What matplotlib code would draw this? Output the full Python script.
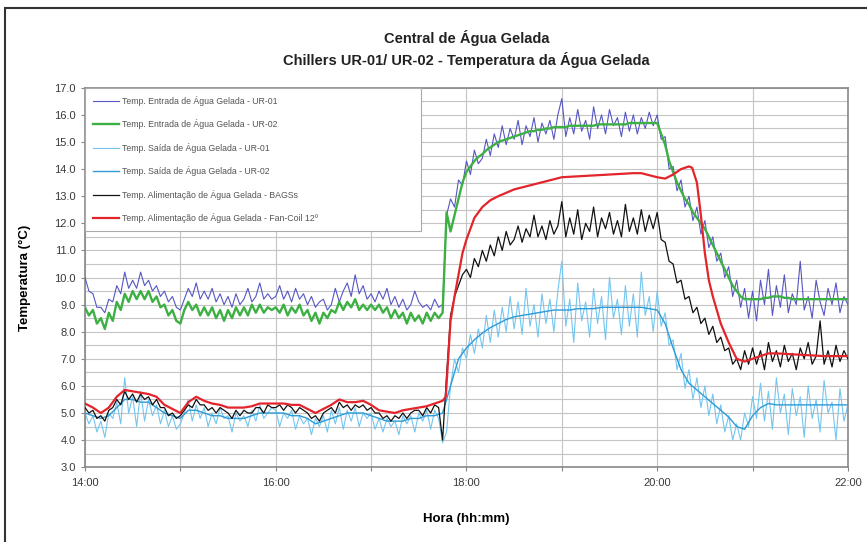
import numpy as np
import matplotlib.pyplot as plt
from matplotlib.patches import Rectangle

plt.rcParams['font.family'] = ['Liberation Sans', 'DejaVu Sans']

# time axis: 2.5 min steps from 14:00 to 22:00 (hours)
t_fine = 14 + np.arange(193) * 2.5 / 60
t_5min = 14 + np.arange(97) * 5 / 60

# Temp. Entrada de Agua Gelada - UR-01 (2.5 min)
entrada_ur01 = [
    10.0, 9.5, 9.4, 8.9, 8.9, 8.7, 9.2, 9.1, 9.7, 9.4, 10.2, 9.6, 9.9, 9.6, 10.2, 9.7, 9.9, 9.5, 9.7, 9.3, 9.5, 9.1, 9.3, 8.9,
    8.8, 9.2, 9.6, 9.3, 9.8, 9.2, 9.5, 9.2, 9.6, 9.1, 9.4, 9.0, 9.3, 8.9, 9.4, 9.0, 9.2, 9.6, 9.1, 9.3, 9.8, 9.2, 9.4, 9.2,
    9.3, 9.7, 9.2, 9.5, 9.1, 9.6, 9.2, 9.4, 9.0, 9.3, 8.9, 9.1, 9.2, 8.8, 9.0, 9.6, 9.1, 9.5, 9.8, 9.3, 10.1, 9.4, 9.7, 9.2,
    9.4, 9.1, 9.5, 9.2, 9.6, 9.0, 9.3, 8.9, 9.2, 8.8, 9.0, 9.5, 9.1, 8.9, 9.0, 8.8, 9.2, 8.9, 9.0, 12.3, 12.9, 12.6, 13.6, 13.4,
    14.3, 13.8, 14.7, 14.2, 14.4, 15.1, 14.5, 15.3, 14.8, 15.6, 14.9, 15.5, 15.1, 15.8, 14.9, 15.6, 15.2, 15.9, 15.0, 15.7, 15.3, 15.8, 15.1, 16.0,
    16.6, 15.2, 15.9, 15.3, 16.2, 15.4, 15.8, 15.1, 16.3, 15.5, 16.0, 15.3, 16.2, 15.6, 15.9, 15.2, 16.1, 15.4, 16.0, 15.3, 15.9, 15.5, 16.1, 15.6,
    16.0, 15.1, 15.2, 14.0, 14.1, 13.2, 13.6, 12.6, 13.0, 12.1, 12.6, 11.6, 12.1, 11.1, 11.5, 10.6, 10.9, 10.0, 10.4, 9.3, 9.9, 8.9, 9.6, 8.5,
    9.5, 8.4, 9.9, 9.0, 10.3, 8.6, 9.7, 8.9, 10.1, 8.7, 9.4, 9.0, 10.6, 8.8, 9.3, 8.5, 9.9, 9.1, 8.6, 9.6, 9.0, 9.8, 8.7, 9.3,
    9.0]

# Temp. Entrada de Agua Gelada - UR-02 (2.5 min)
entrada_ur02 = [
    8.9, 8.6, 8.8, 8.3, 8.5, 8.1, 8.7, 8.4, 9.1, 8.8, 9.4, 9.1, 9.5, 9.2, 9.5, 9.2, 9.5, 9.1, 9.3, 8.9, 9.0, 8.6, 8.8, 8.4,
    8.3, 8.8, 9.1, 8.8, 9.0, 8.6, 8.9, 8.6, 8.9, 8.5, 8.8, 8.4, 8.8, 8.5, 8.9, 8.6, 8.9, 8.6, 9.0, 8.7, 9.0, 8.7, 8.9, 8.8,
    8.9, 8.7, 9.0, 8.6, 8.9, 8.7, 9.0, 8.6, 8.8, 8.4, 8.7, 8.3, 8.7, 8.5, 8.8, 8.7, 9.1, 8.8, 9.1, 8.9, 9.2, 8.8, 9.0, 8.8,
    9.0, 8.8, 9.0, 8.7, 8.9, 8.5, 8.8, 8.5, 8.7, 8.3, 8.7, 8.4, 8.6, 8.3, 8.7, 8.4, 8.7, 8.5, 8.7, 12.4, 11.7, 12.3, 12.9, 13.5,
    13.9, 14.1, 14.3, 14.45, 14.55, 14.7, 14.8, 14.9, 15.0, 15.05, 15.1, 15.15, 15.2, 15.25, 15.3, 15.35, 15.4, 15.4, 15.45, 15.45, 15.5, 15.5, 15.55, 15.55,
    15.55, 15.55, 15.6, 15.6, 15.6, 15.6, 15.6, 15.6, 15.6, 15.65, 15.65, 15.65, 15.65, 15.65, 15.65, 15.65, 15.65, 15.7, 15.7, 15.7, 15.7, 15.7, 15.7, 15.7,
    15.7, 15.3, 14.9, 14.3, 13.9, 13.5, 13.2, 12.9, 12.7, 12.4, 12.2, 12.0, 11.8, 11.5, 11.2, 10.9, 10.6, 10.3, 10.0, 9.7, 9.5, 9.3, 9.2, 9.2,
    9.2, 9.2, 9.2, 9.25, 9.25, 9.3, 9.3, 9.3, 9.25, 9.25, 9.2, 9.2, 9.2, 9.2, 9.2, 9.2, 9.2, 9.2, 9.2, 9.2, 9.2, 9.2, 9.2, 9.2,
    9.2]

# Temp. Saida de Agua Gelada - UR-01 (2.5 min)
saida_ur01 = [
    5.0, 4.6, 4.9, 4.3, 4.7, 4.1, 5.0, 4.8, 5.4, 4.6, 6.3, 5.0, 5.6, 4.5, 5.8, 4.7, 5.5, 4.9, 5.3, 4.6, 5.1, 4.5, 4.9, 4.4,
    4.6, 5.0, 5.5, 4.7, 5.3, 4.8, 5.2, 4.5, 5.0, 4.6, 5.2, 4.8, 4.9, 4.3, 5.0, 4.7, 4.9, 4.5, 5.1, 4.7, 5.3, 4.8, 5.0, 5.2,
    5.1, 4.5, 5.0, 4.8, 5.1, 4.4, 4.9, 4.6, 4.8, 4.2, 4.8, 4.5, 4.9, 4.3, 5.1, 4.6, 5.2, 4.4, 5.1, 4.7, 5.2, 4.5, 5.0, 4.8,
    5.0, 4.4, 4.8, 4.3, 4.8, 4.5, 4.7, 4.2, 4.9, 4.6, 4.9, 4.3, 5.0, 4.7, 5.1, 4.4, 5.1, 4.8, 3.9, 4.3, 6.0, 7.0, 6.5, 7.4,
    7.0, 7.9, 7.2, 8.1, 7.4, 8.6, 7.6, 8.8, 7.8, 8.9, 8.0, 9.3, 8.1, 9.1, 7.9, 9.6, 8.2, 9.0, 7.8, 9.4, 8.3, 9.2, 8.0, 9.5,
    10.6, 8.2, 9.2, 7.6, 9.8, 8.4, 9.1, 7.8, 9.6, 8.3, 9.3, 7.7, 10.0, 8.5, 9.2, 7.9, 9.7, 8.2, 9.4, 7.8, 10.2, 8.6, 9.3, 8.0,
    9.5, 8.2, 8.7, 7.5, 7.7, 6.6, 7.2, 5.9, 6.6, 5.5, 6.3, 5.2, 6.0, 4.9, 5.7, 4.6, 5.3, 4.3, 4.9, 4.0, 4.6, 4.0, 5.0, 4.5,
    5.6, 4.8, 6.1, 4.7, 5.8, 4.4, 6.3, 5.0, 5.7, 4.2, 5.9, 4.9, 5.6, 4.1, 6.0, 4.8, 5.5, 4.3, 6.2, 5.0, 5.4, 4.0, 5.9, 4.7,
    5.3]

# Temp. Saida de Agua Gelada - UR-02 (5 min)
saida_ur02 = [
    5.0, 4.9, 4.8, 4.9, 5.2, 5.5, 5.5, 5.4, 5.4, 5.2, 5.0, 4.9,
    4.8, 5.1, 5.1, 5.0, 4.9, 4.9, 4.8, 4.8, 4.8, 4.9, 5.0, 5.0,
    5.0, 5.0, 4.9, 4.9, 4.8, 4.6, 4.7, 4.8, 4.9, 5.0, 5.0, 5.0,
    4.9, 4.8, 4.7, 4.7, 4.7, 4.8, 4.8, 4.9, 4.9, 5.0, 6.0, 7.0,
    7.4, 7.7, 7.95, 8.15, 8.3, 8.45, 8.55, 8.6, 8.65, 8.7, 8.75, 8.8,
    8.8, 8.8, 8.85, 8.85, 8.85, 8.9, 8.9, 8.9, 8.9, 8.9, 8.9, 8.85,
    8.8, 8.3, 7.4, 6.6, 6.1, 5.85, 5.6, 5.35, 5.1, 4.85, 4.5, 4.4,
    4.9, 5.2, 5.35, 5.3, 5.3, 5.3, 5.3, 5.3, 5.3, 5.3, 5.3, 5.3,
    5.3]

# Temp. Alimentacao de Agua Gelada - BAGSs (2.5 min)
bags = [
    5.2, 5.0, 5.1, 4.8, 4.9, 4.7, 5.1, 5.2, 5.5, 5.3, 5.8, 5.5, 5.7, 5.4, 5.7, 5.5, 5.6, 5.3, 5.5, 5.2, 5.2, 4.9, 5.0, 4.8,
    4.9, 5.1, 5.3, 5.2, 5.5, 5.3, 5.3, 5.1, 5.2, 5.0, 5.2, 5.1, 5.0, 4.8, 5.1, 4.9, 5.1, 5.0, 5.0, 5.2, 5.2, 5.0, 5.3, 5.2,
    5.2, 5.3, 5.1, 5.3, 5.2, 5.0, 5.2, 5.1, 5.0, 4.8, 4.9, 4.7, 5.0, 5.1, 5.2, 5.0, 5.4, 5.2, 5.3, 5.1, 5.3, 5.2, 5.3, 5.1,
    5.2, 5.0, 5.0, 4.8, 4.9, 4.7, 4.9, 4.8, 5.0, 4.8, 5.0, 5.1, 5.1, 4.9, 5.2, 5.0, 5.3, 5.2, 4.0, 6.4, 8.6, 9.3, 9.7, 10.1,
    10.3, 10.0, 10.7, 10.4, 11.0, 10.6, 11.2, 10.8, 11.5, 11.0, 11.7, 11.2, 11.4, 11.9, 11.3, 11.8, 11.5, 12.3, 11.5, 11.9, 11.4, 12.1, 11.6, 11.9,
    12.8, 11.5, 12.2, 11.6, 12.5, 11.4, 12.0, 11.7, 12.6, 11.5, 12.2, 11.8, 12.4, 11.6, 12.1, 11.5, 12.7, 11.7, 12.2, 11.6, 12.5, 11.7, 12.3, 11.8,
    12.4, 11.4, 11.3, 10.6, 10.5, 9.8, 9.9, 9.2, 9.3, 8.7, 8.9, 8.3, 8.5, 7.9, 8.2, 7.6, 7.8, 7.3, 7.4, 6.8, 7.0, 6.6, 7.3, 6.8,
    7.4, 6.8, 7.3, 6.6, 7.6, 6.9, 7.3, 6.7, 7.5, 6.9, 7.2, 6.6, 7.4, 7.0, 7.6, 6.8, 7.1, 8.4, 6.8, 7.3, 6.7, 7.5, 6.9, 7.3,
    7.0]

# Temp. Alimentacao de Agua Gelada - Fan-Coil 12 (minutes after 14:00)
fancoil_min = [0, 5, 10, 15, 20, 25, 30, 35, 40, 45, 50, 55,
               60, 65, 70, 75, 80, 85, 90, 95, 100, 105, 110, 115,
               120, 125, 130, 135, 140, 145, 150, 155, 160, 165, 170, 175,
               180, 185, 190, 195, 200, 205, 210, 215, 220, 225, 227, 230, 232.5, 235, 237.5,
               240, 245, 250, 255, 260, 270, 280, 290, 300, 315, 330, 345, 350,
               360, 365, 370, 375, 380, 382, 385, 387.5, 390, 392.5, 395, 400, 405, 410, 415,
               420, 430, 435, 450, 465, 480]
fancoil = [5.35, 5.2, 5.0, 5.2, 5.6, 5.85, 5.8, 5.75, 5.7, 5.6, 5.3, 5.15,
           5.0, 5.4, 5.6, 5.45, 5.35, 5.3, 5.2, 5.2, 5.2, 5.25, 5.35, 5.35,
           5.35, 5.35, 5.3, 5.3, 5.15, 5.0, 5.15, 5.3, 5.5, 5.4, 5.4, 5.45,
           5.3, 5.1, 5.05, 5.0, 5.1, 5.15, 5.2, 5.25, 5.35, 5.45, 5.6, 8.4, 9.3, 10.1, 10.9,
           11.4, 12.2, 12.6, 12.85, 13.0, 13.25, 13.4, 13.55, 13.7, 13.75, 13.8, 13.85, 13.85,
           13.7, 13.65, 13.8, 14.0, 14.1, 14.05, 13.5, 12.3, 10.9, 9.9, 9.3, 8.3, 7.6, 7.0, 6.9,
           7.0, 7.2, 7.2, 7.15, 7.1, 7.1]

labels = ['Temp. Entrada de Água Gelada - UR-01',
          'Temp. Entrada de Água Gelada - UR-02',
          'Temp. Saída de Água Gelada - UR-01',
          'Temp. Saída de Água Gelada - UR-02',
          'Temp. Alimentação de Água Gelada - BAGSs',
          'Temp. Alimentação de Água Gelada - Fan-Coil 12º']

fig, ax = plt.subplots(figsize=(8.67, 5.42), dpi=100)
fig.subplots_adjust(left=0.098, right=0.978, bottom=0.138, top=0.838)

t_red = 14 + np.array(fancoil_min) / 60

l3, = ax.plot(t_fine, saida_ur01, color='#74c6f0', lw=0.8, label=labels[2], zorder=2)
l4, = ax.plot(t_5min, saida_ur02, color='#2f9ad6', lw=1.0, label=labels[3], zorder=2)
l1, = ax.plot(t_fine, entrada_ur01, color='#5656c4', lw=0.8, label=labels[0], zorder=3)
l2, = ax.plot(t_fine, entrada_ur02, color='#3cb043', lw=1.7, label=labels[1], zorder=4)
l5, = ax.plot(t_fine, bags, color='#111111', lw=0.9, label=labels[4], zorder=5)
l6, = ax.plot(t_red, fancoil, color='#e3242b', lw=1.6, label=labels[5], zorder=6)

ax.set_xlim(14, 22)
ax.set_ylim(3, 17)
ax.set_yticks(np.arange(3, 17.1, 1))
ax.set_yticklabels(['%.1f' % v for v in np.arange(3, 17.1, 1)])
ax.set_yticks(np.arange(3, 17.1, 0.5), minor=True)
ax.set_xticks(np.arange(14, 22.1, 1))
ax.set_xticklabels(['%d:00' % h if h % 2 == 0 else '' for h in range(14, 23)])
ax.grid(True, which='major', color='#c4c4c4', lw=0.8)
ax.grid(True, which='minor', axis='y', color='#c4c4c4', lw=0.8)
ax.tick_params(axis='both', which='major', labelsize=8, labelcolor='#3a3a3a',
               color='#888888', length=3)
ax.tick_params(axis='x', which='major', pad=5)
ax.tick_params(axis='y', which='minor', length=0)
for s in ax.spines.values():
    s.set_color('#888888')
    s.set_linewidth(1.2)

ax.set_ylabel('Temperatura (°C)', fontsize=9.5, fontweight='bold', labelpad=17)
ax.set_xlabel('Hora (hh:mm)', fontsize=9.5, fontweight='bold', labelpad=18)

fig.text(0.538, 0.930, 'Central de Água Gelada', ha='center', va='center',
         fontsize=10.5, fontweight='bold', color='#222222')
fig.text(0.538, 0.889, 'Chillers UR-01/ UR-02 - Temperatura da Água Gelada', ha='center',
         va='center', fontsize=10.5, fontweight='bold', color='#222222')

leg = ax.legend(handles=[l1, l2, l3, l4, l5, l6], loc='upper left',
                bbox_to_anchor=(0, 0.63, 0.44, 0.37), mode='expand', borderaxespad=0,
                fontsize=6.3, labelspacing=1.55, handlelength=3.0, handletextpad=0.3,
                fancybox=False, framealpha=1, edgecolor='#aaaaaa', borderpad=0.9)
leg.get_frame().set_linewidth(0.8)
for txt in leg.get_texts():
    txt.set_color('#555555')
leg.set_zorder(10)

fig.patches.append(Rectangle((0.006, -0.01), 1.0, 0.995, transform=fig.transFigure,
                             fill=False, edgecolor='#333333', lw=1.5))

plt.savefig('out.png')
